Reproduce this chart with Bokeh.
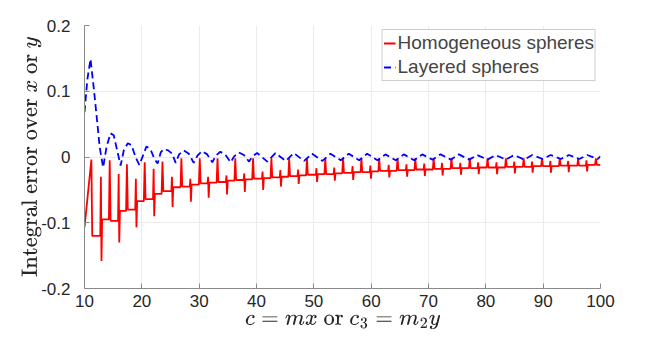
from bokeh.plotting import figure
from bokeh.models import FixedTicker, Legend, LegendItem, Range1d
from bokeh.embed import file_html
from bokeh.resources import INLINE

# ---- data ----
# Homogeneous spheres (red): resonance spikes on a slowly rising baseline
red_start = (10.0, -0.107)
red_end = (100.0, -0.012)
up_x = [11.2, 14.4, 17.4, 20.5, 23.6, 26.9, 30.1, 33.2, 36.3, 39.4, 42.6, 45.7, 48.8, 52.0, 55.1,
        58.3, 61.4, 64.6, 67.7, 70.9, 74.0, 77.2, 80.3, 83.5, 86.6, 89.8, 92.9, 96.1, 99.2]
up_top = [-0.004, -0.005, -0.011, -0.008, -0.007, -0.002, -0.002, -0.002, -0.002, -0.002, -0.002,
          -0.002, -0.002, -0.002, -0.002, -0.002, -0.002, -0.002, -0.002, -0.002, -0.002, -0.002,
          -0.002, -0.002, -0.002, -0.002, -0.002, -0.002, -0.002]
lvl_a = [-0.120, -0.097, -0.080, -0.064, -0.052, -0.045, -0.040, -0.038, -0.035, -0.033, -0.031,
         -0.029, -0.027, -0.026, -0.024, -0.023, -0.021, -0.020, -0.019, -0.018, -0.017, -0.017,
         -0.016, -0.015, -0.015, -0.014, -0.013, -0.013, -0.012]
cross_x = [12.9, 16.0, 19.0, 22.1, 25.3, 28.5, 31.6, 34.8, 37.9, 41.1, 44.2, 47.3, 50.5, 53.6,
           56.8, 59.9, 63.1, 66.2, 69.3, 72.4, 75.6, 78.7, 81.9, 85.0, 88.1, 91.3, 94.4, 97.6]
cross_top = [-0.030, -0.026, -0.033, -0.018, -0.030, -0.033, -0.030, -0.028, -0.025, -0.022, -0.020,
             -0.019, -0.017, -0.016, -0.014, -0.013, -0.012, -0.011, -0.010, -0.009, -0.009, -0.008,
             -0.008, -0.007, -0.007, -0.006, -0.006, -0.005]
cross_bot = [-0.158, -0.130, -0.107, -0.090, -0.076, -0.068, -0.062, -0.057, -0.053, -0.050, -0.045,
             -0.041, -0.038, -0.036, -0.035, -0.033, -0.031, -0.030, -0.029, -0.028, -0.027, -0.026,
             -0.026, -0.025, -0.024, -0.024, -0.023, -0.022]
lvl_b = [-0.095, -0.082, -0.067, -0.056, -0.046, -0.042, -0.039, -0.036, -0.034, -0.032, -0.030,
         -0.028, -0.026, -0.025, -0.023, -0.022, -0.021, -0.020, -0.019, -0.018, -0.017, -0.016,
         -0.016, -0.015, -0.014, -0.014, -0.013, -0.012]

# Layered spheres (blue dashed)
blue_x = [10.0, 10.5, 11.05, 11.6, 12.2, 12.65, 13.25, 13.84, 14.53, 15.1, 15.7, 16.3, 16.85, 17.55,
          18.2, 18.9, 19.55, 20.2, 20.8, 21.5, 22.2, 22.75, 23.3, 23.8, 24.6, 25.3, 25.9, 26.5,
          27.3, 28.2, 29.05, 29.7, 30.5, 31.4, 32.3, 32.9, 33.7, 34.6, 35.5, 36.1, 36.9, 37.8,
          38.7, 39.3, 40.1, 41.9, 43.3, 45.1, 46.5, 48.3, 49.7, 51.5, 52.9, 54.7, 56.1, 57.9,
          59.3, 61.1, 62.5, 64.3, 65.7, 67.5, 68.9, 70.7, 72.1, 73.9, 75.3, 77.1, 78.5, 80.3,
          81.7, 83.5, 84.9, 86.7, 88.1, 89.9, 91.3, 93.1, 94.5, 96.3, 97.7, 99.5, 100.0]
blue_y = [0.068, 0.118, 0.149, 0.106, 0.055, 0.015, -0.016, 0.015, 0.036, 0.033, 0.010, -0.013,
          0.010, 0.021, 0.018, 0.000, -0.012, 0.002, 0.016, 0.012, -0.003, -0.010, 0.007, 0.012,
          0.010, 0.005, -0.009, 0.004, 0.010, 0.005, -0.009, 0.002, 0.009, 0.004, -0.008, 0.002,
          0.008, 0.003, -0.008, 0.001, 0.007, 0.003, -0.007, 0.001, 0.006, -0.007, 0.006, -0.006,
          0.006, -0.006, 0.005, -0.006, 0.005, -0.005, 0.005, -0.005, 0.005, -0.005, 0.004,
          -0.005, 0.004, -0.005, 0.004, -0.004, 0.004, -0.004, 0.004, -0.004, 0.003, -0.004,
          0.003, -0.004, 0.003, -0.004, 0.003, -0.003, 0.003, -0.003, 0.003, -0.003, 0.003,
          -0.003, 0.001]

x_ticks = [10, 20, 30, 40, 50, 60, 70, 80, 90, 100]
y_ticks = [-0.2, -0.1, 0, 0.1, 0.2]
y_labels = {-0.2: "-0.2", -0.1: "-0.1", 0: "0", 0.1: "0.1", 0.2: "0.2"}

# ---- assemble the red polyline from the read spike values ----
rx, ry = [red_start[0]], [red_start[1]]
for k in range(len(up_x)):
    if k > 0:
        rx.append(up_x[k] - 0.15); ry.append(lvl_b[k - 1])
    rx += [up_x[k], up_x[k] + 0.15]
    ry += [up_top[k], lvl_a[k]]
    if k < len(cross_x):
        c = cross_x[k]
        rx += [c - 0.15, c - 0.04, c + 0.06, c + 0.18]
        ry += [lvl_a[k], cross_top[k], cross_bot[k], lvl_b[k]]
rx.append(red_end[0]); ry.append(red_end[1])

p = figure(width=648, height=335, output_backend="svg", toolbar_location=None,
           x_range=Range1d(10, 100), y_range=Range1d(-0.2, 0.2),
           min_border_left=84, min_border_right=48, min_border_top=25, min_border_bottom=47)
p.outline_line_color = None
p.background_fill_color = "white"

r_red = p.line(rx, ry, line_color="#ff0000", line_width=1.8)
r_blue = p.line(blue_x, blue_y, line_color="#0000ff", line_width=1.8, line_dash="7 4")

p.xaxis.ticker = FixedTicker(ticks=x_ticks)
p.yaxis.ticker = FixedTicker(ticks=y_ticks)
p.yaxis.major_label_overrides = y_labels
for ax in (p.xaxis, p.yaxis):
    ax.major_tick_in = 5
    ax.major_tick_out = 0
    ax.minor_tick_line_color = None
    ax.axis_line_color = "#8a8a8a"
    ax.major_tick_line_color = "#8a8a8a"
    ax.major_label_text_font = "Liberation Sans"
    ax.major_label_text_font_size = "17px"
    ax.major_label_text_color = "#262626"
    ax.axis_label_text_font_size = "18.5px"
    ax.axis_label_text_color = "#262626"
p.xaxis.major_label_standoff = 6
p.yaxis.major_label_standoff = 14
p.xaxis.axis_label = r"$$c = mx \text{ or } c_3 = m_2 y$$"
p.yaxis.axis_label = r"$$\text{Integral error over } x \text{ or } y$$"
p.xaxis.axis_label_standoff = 2
p.yaxis.axis_label_standoff = -4

p.xgrid.grid_line_color = "#ebebeb"
p.ygrid.grid_line_color = "#ebebeb"

legend = Legend(items=[LegendItem(label="Homogeneous spheres", renderers=[r_red]),
                       LegendItem(label="Layered spheres", renderers=[r_blue])],
                location="top_right", margin=4, padding=1, spacing=0,
                glyph_width=12, label_standoff=2, label_height=24, glyph_height=24,
                label_text_font="Liberation Sans", label_text_font_size="19px",
                border_line_color="#a0a0a0", border_line_width=1,
                background_fill_alpha=1.0)
p.add_layout(legend)

open("out.html", "w").write(file_html(p, INLINE))
